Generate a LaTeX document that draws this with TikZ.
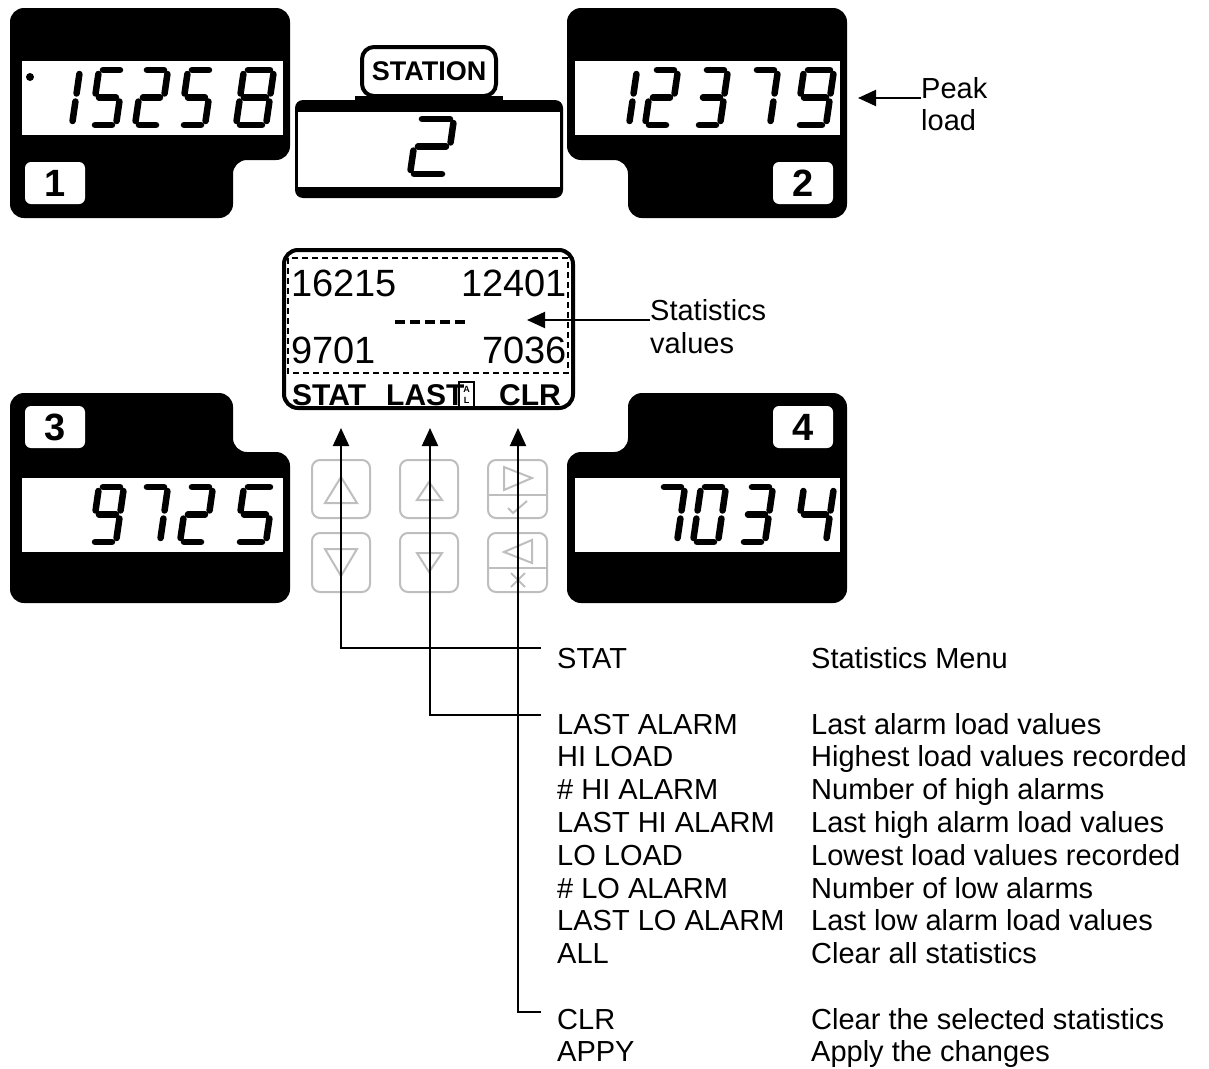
\documentclass[tikz,border=0pt]{standalone}
\usepackage{fontspec}
\setmainfont{Liberation Sans}
\usetikzlibrary{arrows.meta}
\definecolor{keygrey}{RGB}{190,190,190}
\newcommand\SGH{55}
\newcommand\SGg{4}
\tikzset{
  segline/.style={line width=6.5pt,line cap=round},
  sga/.style={insert path={({\SGg},{-\SGH})--({\SGW-\SGg},{-\SGH})}},
  sgb/.style={insert path={({\SGW},{-\SGH+\SGg})--({\SGW},{-\SGH/2-\SGg})}},
  sgc/.style={insert path={({\SGW},{-\SGH/2+\SGg})--({\SGW},{-\SGg})}},
  sgd/.style={insert path={({\SGg},0)--({\SGW-\SGg},0)}},
  sge/.style={insert path={(0,{-\SGg})--(0,{-\SGH/2+\SGg})}},
  sgf/.style={insert path={(0,{-\SGH/2-\SGg})--(0,{-\SGH+\SGg})}},
  sgg/.style={insert path={({\SGg},{-\SGH/2})--({\SGW-\SGg},{-\SGH/2})}},
  panel/.style={fill=black,rounded corners=14pt},
  win/.style={fill=white},
  badge/.style={fill=white,rounded corners=6pt,minimum width=60pt,minimum height=42pt,inner sep=0pt,font=\bfseries\fontsize{38}{38}\selectfont},
  key/.style={draw=keygrey,line width=2pt,rounded corners=8pt},
  keysym/.style={draw=keygrey,line width=2pt},
  lbl/.style={anchor=base west,inner sep=0pt,font=\fontsize{29}{33}\selectfont},
  lcdnum/.style={inner sep=0pt,font=\fontsize{38}{38}\selectfont},
  lcdsoft/.style={anchor=base west,inner sep=0pt,font=\bfseries\fontsize{30}{30}\selectfont},
  conn/.style={line width=2pt},
  arr/.style={line width=2pt,-{Triangle[length=18pt,width=16pt]}},
}
\newcommand\ssdig[4]{\begin{scope}[shift={(#1,#2)},xslant=0.145]\def\SGW{#3}\foreach \s in {#4}{\edef\tmp{\noexpand\draw[segline,sg\s];}\tmp}\end{scope}}
\begin{document}
\begin{tikzpicture}[x=1pt,y=-1pt]
\useasboundingbox (0,0) rectangle (1209,1068);
% ---------- panel 1 ----------
\fill[panel] (10,8) -- (290,8) -- (290,160) -- (233,160) -- (233,218) -- (10,218) -- cycle;
\fill[win] (22,61) rectangle (283,135);
\node[badge] (b1) at (55,183) {1};
\fill (30,77) circle (4);
\ssdig{47}{125}{25}{b,c}
\ssdig{91}{125}{25}{a,f,g,c,d}
\ssdig{135}{125}{25}{a,b,g,e,d}
\ssdig{180}{125}{25}{a,f,g,c,d}
\ssdig{236}{125}{30}{a,b,c,d,e,f,g}
% ---------- panel 2 ----------
\fill[panel] (567,8) -- (847,8) -- (847,218) -- (628,218) -- (628,160) -- (567,160) -- cycle;
\fill[win] (575,61) rectangle (840,135);
\node[badge] (b2) at (803,183) {2};
\ssdig{604}{125}{25}{b,c}
\ssdig{645}{125}{25}{a,b,g,e,d}
\ssdig{695}{125}{25}{a,b,g,c,d}
\ssdig{745}{125}{25}{a,b,c}
\ssdig{796}{125}{30}{a,b,c,d,f,g}
% ---------- panel 3 ----------
\fill[panel] (10,393) -- (233,393) -- (233,452) -- (290,452) -- (290,603) -- (10,603) -- cycle;
\fill[win] (22,478) rectangle (283,552);
\node[badge] (b3) at (55,427) {3};
\ssdig{91}{542}{25}{a,b,c,d,f,g}
\ssdig{135}{542}{25}{a,b,c}
\ssdig{180}{542}{25}{a,b,g,e,d}
\ssdig{236}{542}{30}{a,f,g,c,d}
% ---------- panel 4 ----------
\fill[panel] (628,393) -- (847,393) -- (847,603) -- (567,603) -- (567,452) -- (628,452) -- cycle;
\fill[win] (575,478) rectangle (840,552);
\node[badge] (b4) at (803,427) {4};
\ssdig{652}{542}{25}{a,b,c}
\ssdig{693}{542}{25}{a,b,c,d,e,f}
\ssdig{740}{542}{25}{a,b,g,c,d}
\ssdig{796}{542}{30}{f,g,b,c}
% ---------- station ----------
\fill (355,96) rectangle (503,104);
\fill[rounded corners=8pt] (295,100) rectangle (563,198);
\fill[white] (298,112) rectangle (560,187);
\node[draw,fill=white,line width=4pt,rounded corners=12pt,minimum width=134pt,minimum height=49pt,inner sep=0pt,font=\bfseries\fontsize{27}{27}\selectfont] (station) at (429,71.5) {STATION};
\ssdig{410}{174}{36}{a,b,g,e,d}
% ---------- peak load ----------
\node[lbl] (peak) at (921,98) {Peak};
\node[lbl] (load) at (921,130) {load};
\coordinate (pktip) at (858,98);
\draw[arr] (peak.base west) -- (pktip);
% ---------- central LCD ----------
\node[draw,line width=4pt,rounded corners=14pt,minimum width=289pt,minimum height=158pt,inner sep=0pt] (lcd) at (428.5,329) {};
\draw[line width=1.2pt,dash pattern=on 6pt off 4pt] (288,258) rectangle (568,373);
\node[lcdnum,anchor=base west] (v1) at (291,296) {16215};
\node[lcdnum,anchor=base east] (v2) at (567,296) {12401};
\node[lcdnum,anchor=base west] (v3) at (291,363) {9701};
\node[lcdnum,anchor=base east] (v4) at (567,363) {7036};
\draw[line width=4pt,dash pattern=on 10pt off 5pt] (395,322) -- (465,322);
\node[lcdsoft] (sstat) at (292,405) {STAT};
\node[lcdsoft] (slast) at (386,405) {LAST};
\node[lcdsoft] (sclr) at (499,405) {CLR};
\draw[line width=1.2pt] (459,382) rectangle (474,407);
\node[inner sep=0pt,font=\bfseries\fontsize{9}{9}\selectfont] (sa) at (466.5,389) {A};
\node[inner sep=0pt,font=\bfseries\fontsize{9}{9}\selectfont] (sl) at (466.5,400) {L};
\node[lbl] (stv) at (650,320) {Statistics};
\node[lbl] (stv2) at (650,353) {values};
\coordinate (svtip) at (527,320);
\draw[arr] (stv.base west) -- (svtip);
% ---------- keypad ----------
\draw[key] (312,460) rectangle (370,518);
\draw[key] (312,533) rectangle (370,592);
\draw[key] (400,460) rectangle (458,518);
\draw[key] (400,533) rectangle (458,592);
\draw[key] (488,460) rectangle (547,518);
\draw[key] (488,533) rectangle (547,592);
\draw[keysym] (341,477) -- (325,503) -- (357,503) -- cycle;
\draw[keysym] (325,549) -- (357,549) -- (341,576) -- cycle;
\draw[keysym] (429,482) -- (417,500) -- (442,500) -- cycle;
\draw[keysym] (417,553) -- (442,553) -- (429,572) -- cycle;
\draw[keysym] (504,467) -- (504,490) -- (532,478) -- cycle;
\draw[keysym] (488,495) -- (547,495);
\draw[keysym] (508,508) -- (513,513) -- (527,501);
\draw[keysym] (532,540) -- (532,563) -- (504,552) -- cycle;
\draw[keysym] (488,568) -- (547,568);
\draw[keysym] (511,573) -- (525,587) (525,573) -- (511,587);
% ---------- legend ----------
\node[lbl] (lstat) at (557,668) {STAT};
\node[lbl] (dstat) at (811,668) {Statistics Menu};
\foreach \i/\a/\b in {0/LAST ALARM/Last alarm load values,
                      1/HI LOAD/Highest load values recorded,
                      2/\# HI ALARM/Number of high alarms,
                      3/LAST HI ALARM/Last high alarm load values,
                      4/LO LOAD/Lowest load values recorded,
                      5/\# LO ALARM/Number of low alarms,
                      6/LAST LO ALARM/Last low alarm load values,
                      7/ALL/Clear all statistics}{
  \node[lbl] (la\i) at (557,{734+32.8*\i}) {\a};
  \node[lbl] (da\i) at (811,{734+32.8*\i}) {\b};
}
\node[lbl] (lclr) at (557,1029) {CLR};
\node[lbl] (dclr) at (811,1029) {Clear the selected statistics};
\node[lbl] (lappy) at (557,1061) {APPY};
\node[lbl] (dappy) at (811,1061) {Apply the changes};
% ---------- connectors ----------
\coordinate (tstat) at (341,428);
\coordinate (tlast) at (430,428);
\coordinate (tclr) at (518,428);
\coordinate (estat) at (541,648);
\coordinate (elast) at (541,715);
\coordinate (eclr) at (541,1012);
\draw[arr] (estat) -| (tstat);
\draw[arr] (elast) -| (tlast);
\draw[arr] (eclr) -| (tclr);
\end{tikzpicture}
\end{document}
